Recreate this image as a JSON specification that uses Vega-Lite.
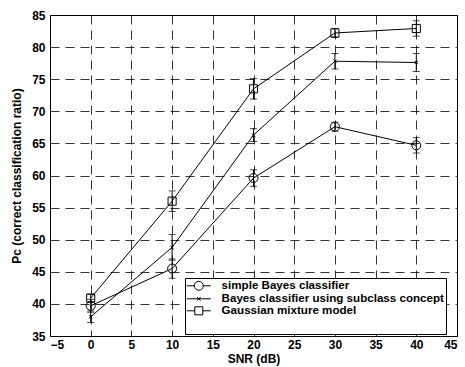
{
  "$schema": "https://vega.github.io/schema/vega-lite/v6.json",
  "width": 407,
  "height": 321,
  "autosize": {"type": "none"},
  "padding": {"left": 50, "top": 15, "right": 8, "bottom": 31},
  "background": "white",
  "config": {
    "view": {"stroke": "black", "strokeWidth": 1},
    "font": "Liberation Sans",
    "axis": {
      "grid": true,
      "gridColor": "black",
      "gridDash": [9, 6],
      "gridWidth": 0.8,
      "gridOpacity": 1,
      "domain": false,
      "ticks": false,
      "labelFont": "Liberation Sans",
      "labelFontSize": 12,
      "labelFontWeight": "bold",
      "labelColor": "black",
      "labelOverlap": false,
      "titleFont": "Liberation Sans",
      "titleFontSize": 12,
      "titleFontWeight": "bold",
      "titleColor": "black"
    }
  },
  "data": {
    "values": [
      {"series": "simple Bayes classifier", "snr": 0, "pc": 39.7, "lo": 38.7, "hi": 40.7},
      {"series": "simple Bayes classifier", "snr": 10, "pc": 45.5, "lo": 44.0, "hi": 47.0},
      {"series": "simple Bayes classifier", "snr": 20, "pc": 59.6, "lo": 58.3, "hi": 60.9},
      {"series": "simple Bayes classifier", "snr": 30, "pc": 67.6, "lo": 66.9, "hi": 68.3},
      {"series": "simple Bayes classifier", "snr": 40, "pc": 64.7, "lo": 63.5, "hi": 65.9},
      {"series": "Bayes classifier using subclass concept", "snr": 0, "pc": 38.0, "lo": 37.1, "hi": 38.9},
      {"series": "Bayes classifier using subclass concept", "snr": 10, "pc": 48.8, "lo": 46.8, "hi": 50.8},
      {"series": "Bayes classifier using subclass concept", "snr": 20, "pc": 66.3, "lo": 65.3, "hi": 67.3},
      {"series": "Bayes classifier using subclass concept", "snr": 30, "pc": 77.8, "lo": 76.6, "hi": 79.0},
      {"series": "Bayes classifier using subclass concept", "snr": 40, "pc": 77.6, "lo": 76.2, "hi": 79.0},
      {"series": "Gaussian mixture model", "snr": 0, "pc": 40.9, "lo": 40.3, "hi": 41.5},
      {"series": "Gaussian mixture model", "snr": 10, "pc": 56.0, "lo": 54.4, "hi": 57.6},
      {"series": "Gaussian mixture model", "snr": 20, "pc": 73.5, "lo": 71.9, "hi": 75.1},
      {"series": "Gaussian mixture model", "snr": 30, "pc": 82.2, "lo": 81.5, "hi": 82.9},
      {"series": "Gaussian mixture model", "snr": 40, "pc": 82.9, "lo": 81.7, "hi": 84.1}
    ]
  },
  "encoding": {
    "x": {
      "field": "snr",
      "type": "quantitative",
      "scale": {"domain": [-5, 45], "nice": false, "zero": false},
      "axis": {"title": "SNR (dB)", "values": [-5, 0, 5, 10, 15, 20, 25, 30, 35, 40, 45], "labelPadding": 3, "titlePadding": 3}
    }
  },
  "resolve": {"scale": {"shape": "independent"}, "legend": {"shape": "independent"}},
  "layer": [
    {
      "mark": {"type": "line", "color": "black", "strokeWidth": 1},
      "encoding": {
        "y": {
          "field": "pc",
          "type": "quantitative",
          "scale": {"domain": [35, 85], "nice": false, "zero": false},
          "axis": {"title": "Pc (correct classification ratio)", "values": [35, 40, 45, 50, 55, 60, 65, 70, 75, 80, 85], "labelPadding": 5, "titlePadding": 8}
        },
        "detail": {"field": "series", "type": "nominal"}
      }
    },
    {
      "mark": {"type": "errorbar", "color": "black", "thickness": 1, "ticks": {"size": 7, "color": "black", "thickness": 1}},
      "encoding": {
        "y": {"field": "lo", "type": "quantitative", "axis": {"title": "Pc (correct classification ratio)", "values": [35, 40, 45, 50, 55, 60, 65, 70, 75, 80, 85], "labelPadding": 5, "titlePadding": 8}},
        "y2": {"field": "hi"},
        "detail": {"field": "series", "type": "nominal"}
      }
    },
    {
      "mark": {"type": "point", "filled": false, "color": "black", "opacity": 1, "strokeWidth": 1, "size": 81},
      "encoding": {
        "y": {"field": "pc", "type": "quantitative", "axis": {"title": "Pc (correct classification ratio)", "values": [35, 40, 45, 50, 55, 60, 65, 70, 75, 80, 85], "labelPadding": 5, "titlePadding": 8}},
        "shape": {
          "field": "series",
          "type": "nominal",
          "scale": {
            "domain": ["simple Bayes classifier", "Bayes classifier using subclass concept", "Gaussian mixture model"],
            "range": ["circle", "M-0.35,-0.35L0.35,0.35M-0.35,0.35L0.35,-0.35", "M-0.9,-0.9H0.9V0.9H-0.9Z"]
          },
          "legend": null
        }
      }
    },
    {
      "transform": [{"filter": "datum.snr > 1000"}],
      "mark": {"type": "point", "filled": false, "color": "black", "opacity": 1, "strokeWidth": 1, "size": 100},
      "encoding": {
        "y": {"field": "pc", "type": "quantitative", "axis": {"title": "Pc (correct classification ratio)", "values": [35, 40, 45, 50, 55, 60, 65, 70, 75, 80, 85], "labelPadding": 5, "titlePadding": 8}},
        "shape": {
          "field": "series",
          "type": "nominal",
          "scale": {
            "domain": ["simple Bayes classifier", "Bayes classifier using subclass concept", "Gaussian mixture model"],
            "range": [
              "M-2.4,0H-0.9M0.9,0H2.4M0.9,0A0.9,0.9 0 1 1 -0.9,0A0.9,0.9 0 1 1 0.9,0",
              "M-2.4,0H2.4M-0.35,-0.35L0.35,0.35M-0.35,0.35L0.35,-0.35",
              "M-2.4,0H-0.8M0.8,0H2.4M-0.8,-0.8H0.8V0.8H-0.8Z"
            ]
          },
          "legend": {
            "title": " ",
            "titleOrient": "bottom",
            "titleFontSize": 6,
            "titlePadding": 9,
            "orient": "none",
            "legendX": 135,
            "legendY": 263,
            "direction": "vertical",
            "fillColor": "white",
            "strokeColor": "black",
            "padding": 2,
            "symbolOffset": 6,
            "symbolSize": 100,
            "symbolStrokeColor": "black",
            "symbolStrokeWidth": 1,
            "symbolFillColor": "transparent",
            "labelFont": "Liberation Sans",
            "labelFontSize": 11.6,
            "labelFontWeight": "bold",
            "labelColor": "black",
            "labelOffset": 17,
            "labelLimit": 400,
            "rowPadding": -2
          }
        }
      }
    }
  ]
}
